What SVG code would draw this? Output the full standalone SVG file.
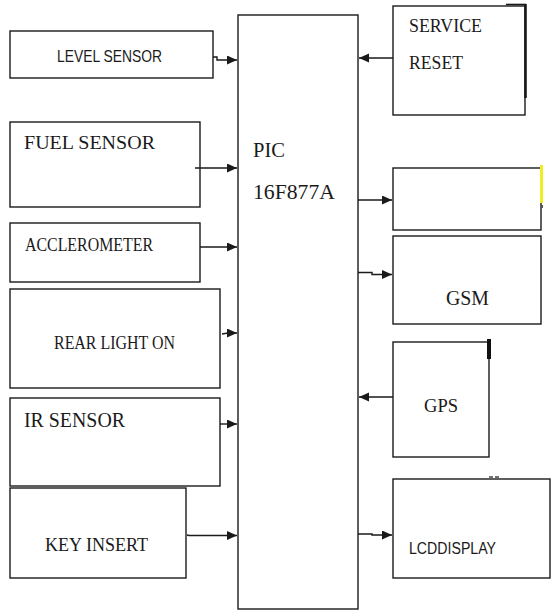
<svg xmlns="http://www.w3.org/2000/svg" width="551" height="611" viewBox="0 0 551 611">
<defs>
<marker id="ah" markerUnits="userSpaceOnUse" markerWidth="11" markerHeight="10" refX="10" refY="4.5" orient="auto">
<path d="M0,0 L10,4.5 L0,9 z" fill="#1a1a1a"/>
</marker>
</defs>
<rect width="551" height="611" fill="#fff"/>

<g fill="#fff" stroke="#1a1a1a" stroke-width="1.4">
<g id="pic">
<rect x="238" y="15" width="120" height="594"/>
<text stroke="none" fill="#1a1a1a" font-family="Liberation Serif" x="253" y="157" font-size="21" textLength="32" lengthAdjust="spacingAndGlyphs">PIC</text>
<text stroke="none" fill="#1a1a1a" font-family="Liberation Serif" x="253" y="199" font-size="21" textLength="82" lengthAdjust="spacingAndGlyphs">16F877A</text>
</g>

<g id="level-sensor">
<rect x="10" y="31" width="203" height="47"/>
<text stroke="none" fill="#1a1a1a" font-family="Liberation Sans" x="57" y="62" font-size="17" textLength="105" lengthAdjust="spacingAndGlyphs">LEVEL SENSOR</text>
</g>

<g id="fuel-sensor">
<rect x="10" y="122" width="190" height="85"/>
<text stroke="none" fill="#1a1a1a" font-family="Liberation Serif" x="24" y="149" font-size="19" textLength="131" lengthAdjust="spacingAndGlyphs">FUEL SENSOR</text>
</g>

<g id="accelerometer">
<rect x="10" y="223" width="190" height="59"/>
<text stroke="none" fill="#1a1a1a" font-family="Liberation Serif" x="25" y="251" font-size="18" textLength="128" lengthAdjust="spacingAndGlyphs">ACCLEROMETER</text>
</g>

<g id="rear-light">
<rect x="10" y="289" width="210" height="99"/>
<text stroke="none" fill="#1a1a1a" font-family="Liberation Serif" x="54" y="349" font-size="19" textLength="121" lengthAdjust="spacingAndGlyphs">REAR LIGHT ON</text>
</g>

<g id="ir-sensor">
<rect x="10" y="398" width="210" height="88"/>
<text stroke="none" fill="#1a1a1a" font-family="Liberation Serif" x="24" y="427" font-size="20" textLength="101" lengthAdjust="spacingAndGlyphs">IR SENSOR</text>
</g>

<g id="key-insert">
<rect x="10" y="488" width="176" height="90"/>
<text stroke="none" fill="#1a1a1a" font-family="Liberation Serif" x="45" y="551" font-size="19" textLength="103" lengthAdjust="spacingAndGlyphs">KEY INSERT</text>
</g>

<g id="service-reset">
<rect x="393" y="6" width="132" height="109"/>
<path d="M525.5,4 V98" stroke-width="2.6" fill="none"/>
<path d="M506,4.5 H526" stroke-width="1.6" fill="none"/>
<text stroke="none" fill="#1a1a1a" font-family="Liberation Serif" x="409" y="32" font-size="19" textLength="73" lengthAdjust="spacingAndGlyphs">SERVICE</text>
<text stroke="none" fill="#1a1a1a" font-family="Liberation Serif" x="409" y="69" font-size="19" textLength="54" lengthAdjust="spacingAndGlyphs">RESET</text>
</g>

<g id="output-blank">
<rect x="393" y="168" width="148" height="62"/>
<path d="M541.5,165 V203" stroke="#f0ee20" stroke-width="3" fill="none"/>
<rect x="541" y="205" width="2" height="3" fill="#555" stroke="none"/>
</g>

<g id="gsm">
<rect x="393" y="236" width="148" height="88"/>
<text stroke="none" fill="#1a1a1a" font-family="Liberation Serif" x="446" y="305" font-size="20" textLength="43" lengthAdjust="spacingAndGlyphs">GSM</text>
</g>

<g id="gps">
<rect x="393" y="342" width="96" height="115"/>
<rect x="487" y="339" width="4" height="20" fill="#111" stroke="none"/>
<text stroke="none" fill="#1a1a1a" font-family="Liberation Serif" x="424" y="412" font-size="19" textLength="34" lengthAdjust="spacingAndGlyphs">GPS</text>
</g>

<g id="lcd-display">
<rect x="393" y="479" width="157" height="99"/>
<path d="M489,477 H500" stroke="#444" stroke-width="1.6" stroke-dasharray="4,2" fill="none"/>
<text stroke="none" fill="#1a1a1a" font-family="Liberation Sans" x="409" y="554" font-size="16" textLength="87" lengthAdjust="spacingAndGlyphs">LCDDISPLAY</text>
</g>
</g>

<g id="connectors" fill="none" stroke="#1a1a1a" stroke-width="1.4">
<polyline points="213,57 217,57 217,60 237,60" marker-end="url(#ah)"/>
<line x1="195" y1="168" x2="237" y2="168" marker-end="url(#ah)"/>
<line x1="200" y1="247" x2="237" y2="247" marker-end="url(#ah)"/>
<polyline points="222,334 228,333 237,333" marker-end="url(#ah)"/>
<line x1="220" y1="424" x2="237" y2="424" marker-end="url(#ah)"/>
<polyline points="187,535 189,535.5 237,535.5" marker-end="url(#ah)"/>
<line x1="393" y1="58" x2="359" y2="58" marker-end="url(#ah)"/>
<line x1="358" y1="200" x2="392" y2="200" marker-end="url(#ah)"/>
<polyline points="358,272.5 372,272.5 372,274.5 392,274.5" marker-end="url(#ah)"/>
<line x1="393" y1="397" x2="359" y2="397" marker-end="url(#ah)"/>
<polyline points="358,534 372,534 372,535 392,535" marker-end="url(#ah)"/>
</g>
</svg>
